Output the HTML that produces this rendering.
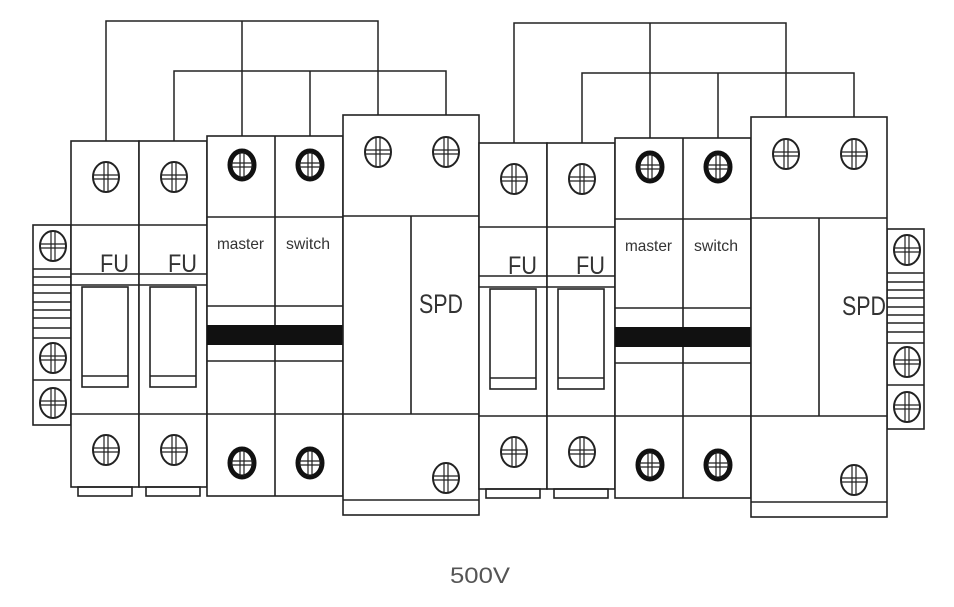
<!DOCTYPE html>
<html><head><meta charset="utf-8"><style>
html,body{margin:0;padding:0;background:#fff;}
svg{display:block;}
text{font-family:"Liberation Sans",sans-serif;fill:#333;}
</style></head><body>
<svg width="954" height="607" viewBox="0 0 954 607" xmlns="http://www.w3.org/2000/svg">
<defs>
<g id="sc">
<ellipse cx="0" cy="0" rx="13" ry="15" fill="#fff" stroke="#222" stroke-width="2"/>
<path d="M-13 -2H13M-13 2H13M-2 -15V15M2 -15V15" stroke="#222" stroke-width="1.2" fill="none"/>
</g>
<g id="sb">
<ellipse cx="0" cy="0" rx="12" ry="14" fill="#fff" stroke="#111" stroke-width="5"/>
<path d="M-11 -2H11M-11 2H11M-2 -13V13M2 -13V13" stroke="#222" stroke-width="1.2" fill="none"/>
</g>
<g id="unit" fill="none" stroke="#222" stroke-width="1.6">
<!-- FU modules -->
<rect x="71" y="141" width="68" height="346" fill="#fff"/>
<rect x="139" y="141" width="68" height="346" fill="#fff"/>
<path d="M71 225H207M71 274H207M71 285H207M71 414H207"/>
<rect x="82" y="287" width="46" height="100"/><path d="M82 376H128"/>
<rect x="150" y="287" width="46" height="100"/><path d="M150 376H196"/>
<rect x="78" y="487" width="54" height="9"/>
<rect x="146" y="487" width="54" height="9"/>
<!-- MCB -->
<rect x="207" y="136" width="136" height="360" fill="#fff"/>
<path d="M275 136V496M207 217H343M207 306H343M207 361H343M207 414H343"/>
<rect x="207" y="325" width="136" height="20" fill="#111" stroke="none"/>
<!-- SPD -->
<rect x="343" y="115" width="136" height="400" fill="#fff"/>
<path d="M343 216H479M343 414H479M343 500H479M411 216V414"/>
</g>
</defs>

<!-- top wiring -->
<g fill="none" stroke="#222" stroke-width="1.5">
<path d="M106 165V21H378V152M242 21V165"/>
<path d="M174 177V71H446V152M310 71V165"/>
<path d="M514 179V23H786V154M650 23V167"/>
<path d="M582 179V73H854V154M718 73V167"/>
</g>

<!-- left side block -->
<g fill="#fff" stroke="#222" stroke-width="1.6">
<rect x="33" y="225" width="38" height="200"/>
<path d="M33 269H71M33 277H71M33 285H71M33 293H71M33 302H71M33 310H71M33 318H71M33 328H71M33 338H71M33 380H71" fill="none"/>
</g>
<use href="#sc" x="53" y="246"/><use href="#sc" x="53" y="358"/><use href="#sc" x="53" y="403"/>

<!-- right side block -->
<g fill="#fff" stroke="#222" stroke-width="1.6">
<rect x="887" y="229" width="37" height="200"/>
<path d="M887 273H924M887 282H924M887 290H924M887 298H924M887 307H924M887 315H924M887 323H924M887 332H924M887 343H924M887 385H924" fill="none"/>
</g>
<use href="#sc" x="907" y="250"/><use href="#sc" x="907" y="362"/><use href="#sc" x="907" y="407"/>

<!-- left unit -->
<use href="#unit"/>
<use href="#sc" x="106" y="177"/><use href="#sc" x="174" y="177"/>
<use href="#sc" x="106" y="450"/><use href="#sc" x="174" y="450"/>
<use href="#sb" x="242" y="165"/><use href="#sb" x="310" y="165"/>
<use href="#sb" x="242" y="463"/><use href="#sb" x="310" y="463"/>
<use href="#sc" x="378" y="152"/><use href="#sc" x="446" y="152"/><use href="#sc" x="446" y="478"/>
<text x="100" y="272" font-size="25" textLength="29" lengthAdjust="spacingAndGlyphs">FU</text>
<text x="168" y="272" font-size="25" textLength="29" lengthAdjust="spacingAndGlyphs">FU</text>
<text x="217" y="249" font-size="16" textLength="47" lengthAdjust="spacingAndGlyphs">master</text>
<text x="286" y="249" font-size="16" textLength="44" lengthAdjust="spacingAndGlyphs">switch</text>
<text x="419" y="313" font-size="27" textLength="44" lengthAdjust="spacingAndGlyphs">SPD</text>

<!-- right unit -->
<g transform="translate(408,2)">
<use href="#unit"/>
<use href="#sc" x="106" y="177"/><use href="#sc" x="174" y="177"/>
<use href="#sc" x="106" y="450"/><use href="#sc" x="174" y="450"/>
<use href="#sb" x="242" y="165"/><use href="#sb" x="310" y="165"/>
<use href="#sb" x="242" y="463"/><use href="#sb" x="310" y="463"/>
<use href="#sc" x="378" y="152"/><use href="#sc" x="446" y="152"/><use href="#sc" x="446" y="478"/>
<text x="100" y="272" font-size="25" textLength="29" lengthAdjust="spacingAndGlyphs">FU</text>
<text x="168" y="272" font-size="25" textLength="29" lengthAdjust="spacingAndGlyphs">FU</text>
<text x="217" y="249" font-size="16" textLength="47" lengthAdjust="spacingAndGlyphs">master</text>
<text x="286" y="249" font-size="16" textLength="44" lengthAdjust="spacingAndGlyphs">switch</text>
<text x="434" y="313" font-size="27" textLength="44" lengthAdjust="spacingAndGlyphs">SPD</text>
</g>

<text x="450" y="583" font-size="22" fill="#555" style="fill:#555" textLength="60" lengthAdjust="spacingAndGlyphs">500V</text>
</svg>
</body></html>
